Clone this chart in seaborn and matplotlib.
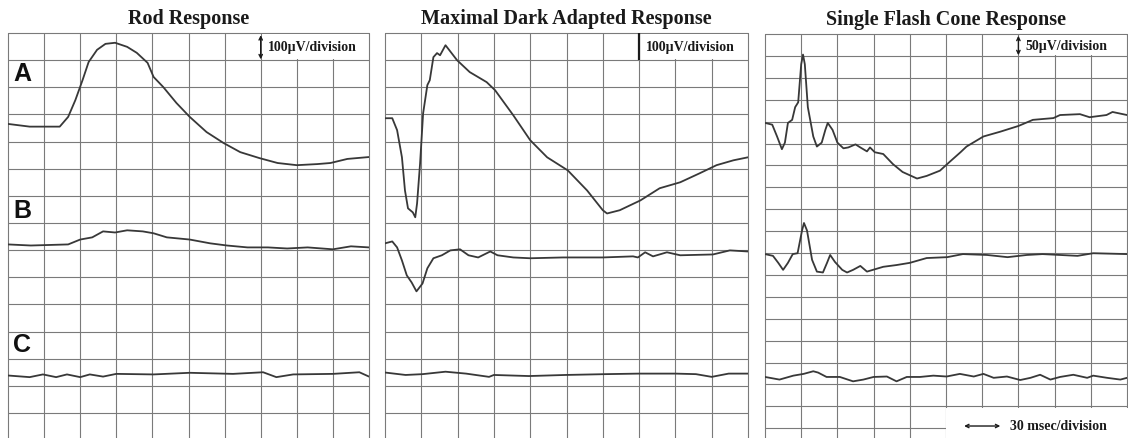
import matplotlib
matplotlib.use('Agg')
import matplotlib.pyplot as plt
from matplotlib.patches import Rectangle
import numpy as np
import seaborn as sns

# time in msec after flash, amplitude in microvolts (relative to pre-flash baseline)
rod_a_t = [0, 18, 43, 50, 56, 62, 67, 74, 81, 89, 99, 107, 116, 121, 129, 140, 151, 165, 179, 193, 209, 224, 240, 257, 268, 282, 300]
rod_a_uv = [4, -6, -6, 30, 92, 166, 232, 277, 299, 303, 288, 266, 229, 177, 140, 81, 30, -26, -66, -100, -122, -140, -148, -144, -140, -125, -118]
rod_b_t = [0, 19, 50, 60, 70, 79, 89, 99, 112, 121, 132, 151, 168, 182, 199, 216, 232, 249, 270, 285, 300]
rod_b_uv = [0, -4, 0, 18, 26, 48, 44, 52, 48, 41, 26, 18, 4, -4, -11, -11, -15, -11, -18, -7, -11]
rod_c_t = [0, 18, 29, 40, 49, 60, 68, 79, 90, 121, 151, 187, 212, 223, 237, 270, 292, 300]
rod_c_uv = [0, -6, 4, -6, 4, -6, 4, -4, 6, 4, 10, 6, 12, -6, 4, 6, 12, -4]

dark_a_t = [0, 6, 10, 14, 16.5, 19, 23, 25, 26.5, 29, 31.5, 35, 37, 40, 43, 45.5, 50, 59.5, 70, 84,
            91, 106, 120, 134, 151, 167, 180, 183.5, 194, 211, 227, 244, 260, 274, 288, 300]
dark_a_uv = [0, 0, -44, -144, -266, -332, -347, -365, -314, -166, 18, 122, 140, 225, 240, 232, 269, 214, 170, 133,
             103, 11, -81, -144, -192, -266, -339, -351, -339, -303, -258, -236, -203, -173, -155, -144]
dark_b_t = [0, 6, 10, 14, 18, 22, 26, 31, 35, 40, 47, 54, 62, 69, 77, 87, 93, 106, 120, 147,
            180, 205, 209, 215, 221.5, 233, 244, 271, 285, 300]
dark_b_uv = [0, 7, -15, -63, -118, -144, -177, -148, -92, -55, -44, -26, -22, -44, -52, -30, -44, -52, -55, -52,
             -52, -48, -52, -33, -48, -33, -44, -41, -26, -30]
dark_c_t = [0, 17, 31, 50, 67, 86, 90, 119, 149, 182, 210, 240, 257, 270, 284, 300]
dark_c_uv = [4, -5, -2, 7, 0, -12, -5, -9, -5, -2, 0, 0, -2, -12, 0, 0]

cone_a_t = [0, 6, 10, 14, 16.5, 19, 22.5, 25, 27.5, 30, 31.5, 33, 35.5, 40, 43, 47, 50, 52, 56, 60,
            65, 69, 75, 79, 84.5, 87, 91, 98, 106, 114, 126, 134, 145, 153, 162, 167, 181, 195, 210, 222,
            239, 244.5, 261, 269, 283, 288, 300]
cone_a_uv = [0, -4, -31, -60, -45, 0, 7, 36, 47, 134, 156, 134, 36, -31, -54, -45, -16, 0, -16, -45,
             -58, -56, -49, -56, -65, -56, -67, -71, -94, -112, -127, -121, -109, -89, -67, -54, -31, -20, -7, 7,
             11, 18, 20, 13, 18, 25, 18]
cone_b_t = [0, 6.6, 11, 15, 19, 23, 27, 30.7, 32.3, 34.8, 39, 43, 48, 51.4, 54, 58, 64, 68, 73, 79,
            84.5, 98, 109, 120, 134, 151, 164, 184, 201, 217, 230, 259, 272, 300]
cone_b_uv = [0, -4, -20, -36, -20, 0, 2, 54, 71, 54, -13, -40, -42, -20, -2, -18, -36, -42, -36, -27,
             -40, -29, -25, -20, -9, -7, 0, -2, -7, -2, 0, -4, 2, 0]
cone_c_t = [0, 12, 23.5, 32, 40, 44, 51, 62, 73, 81.5, 90, 101, 109, 117.5, 128.5, 139.5, 150.5, 161.5, 173, 181,
            189.5, 200.5, 211.5, 220, 228, 236.5, 244.5, 255.5, 267, 272, 283.5, 294.5, 300]
cone_c_uv = [0, -6, 3, 7, 13, 10, 0, 0, -10, -6, 0, 1, -10, 0, 0, 3, 1, 7, 1, 7,
             -2, 1, -7, -2, 5, -6, 0, 5, -2, 3, -2, -6, -2]

titles = ['Rod Response', 'Maximal Dark Adapted Response', 'Single Flash Cone Response']
scale_labels = ['100\u00b5V/division', '100\u00b5V/division', '50\u00b5V/division']
uv_per_div = [100, 100, 50]
row_labels = ['A', 'B', 'C']
ms_per_div = 30

sns.set_theme(style='white')
plt.rcParams['font.family'] = ['Liberation Serif', 'DejaVu Serif']

GRID = '#7a7a7a'
TRACE = '#383838'
INK = '#1a1a1a'
W, H = 1128, 438

# panel boxes in pixels: left, right, top, grid spacing (px per vertical division)
panels = [
    dict(l=8, r=369, top=33, dy=27.14, base=[3.39, 7.79, 12.62],
         traces=[(rod_a_t, rod_a_uv), (rod_b_t, rod_b_uv), (rod_c_t, rod_c_uv)]),
    dict(l=385, r=748, top=33, dy=27.14, base=[3.14, 7.75, 12.55],
         traces=[(dark_a_t, dark_a_uv), (dark_b_t, dark_b_uv), (dark_c_t, dark_c_uv)]),
    dict(l=765, r=1127, top=34, dy=21.9, base=[4.06, 10.05, 15.66],
         traces=[(cone_a_t, cone_a_uv), (cone_b_t, cone_b_uv), (cone_c_t, cone_c_uv)]),
]

fig = plt.figure(figsize=(W / 100, H / 100), dpi=100)
fig.patch.set_facecolor('white')

for k, p in enumerate(panels):
    height = H - p['top']
    ax = fig.add_axes([p['l'] / W, 0, (p['r'] - p['l']) / W, height / H])
    ybot = height / p['dy']
    ax.set_xlim(0, 10)
    ax.set_ylim(ybot, 0)
    ax.axis('off')

    # grid paper
    for i in range(11):
        ax.axvline(i, color=GRID, lw=0.8, zorder=1, clip_on=False)
    for j in range(int(ybot) + 1):
        ax.axhline(j, color=GRID, lw=0.8, zorder=1, clip_on=False)

    # traces
    for base, (t, uv) in zip(p['base'], p['traces']):
        x = np.array(t) / ms_per_div
        y = base - np.array(uv) / uv_per_div[k]
        sns.lineplot(x=x, y=y, ax=ax, color=TRACE, linewidth=1.3, sort=False,
                     estimator=None, zorder=3)
    ax.set_xlabel('')
    ax.set_ylabel('')

    # amplitude calibration in the top-right cell
    ax.add_patch(Rectangle((7.04, 0.04), 2.92, 0.92, facecolor='white', edgecolor='none', zorder=2))
    if k == 1:
        ax.plot([7, 7], [0.0, 1.0], color=INK, lw=1.6, zorder=4, solid_capstyle='butt')
    else:
        ax.annotate('', xy=(7, 0.08), xytext=(7, 0.97),
                    arrowprops=dict(arrowstyle='<->', color=INK, lw=1.0, mutation_scale=6,
                                    shrinkA=0, shrinkB=0), zorder=4)
    ax.text(7.2, 0.55, scale_labels[k], ha='left', va='center', fontsize=10,
            fontweight='bold', color=INK, zorder=5)

    ax.text(0.5, 1 + 14 / height, titles[k], transform=ax.transAxes, ha='center', va='center',
            fontsize=14.5, fontweight='bold', color=INK)

    if k == 0:
        for lab, yy in zip(row_labels, [1.51, 6.56, 11.5]):
            ax.text(0.14, yy, lab, ha='left', va='center', fontsize=18, fontweight='bold',
                    color='#111111', family=['Liberation Sans', 'DejaVu Sans'], zorder=5)

    if k == 2:
        # time calibration in the lower-right corner
        ax.add_patch(Rectangle((5.0, 17.06), 5.1, ybot - 17.0, facecolor='white',
                               edgecolor='none', zorder=2, clip_on=False))
        ax.annotate('', xy=(5.5, 17.9), xytext=(6.5, 17.9),
                    arrowprops=dict(arrowstyle='<->', color=INK, lw=1.0, mutation_scale=6,
                                    shrinkA=0, shrinkB=0), zorder=4)
        ax.text(6.77, 17.9, '30 msec/division', ha='left', va='center', fontsize=10,
                fontweight='bold', color=INK, zorder=5)

fig.savefig('out.png', dpi=100, facecolor='white')
plt.close(fig)
